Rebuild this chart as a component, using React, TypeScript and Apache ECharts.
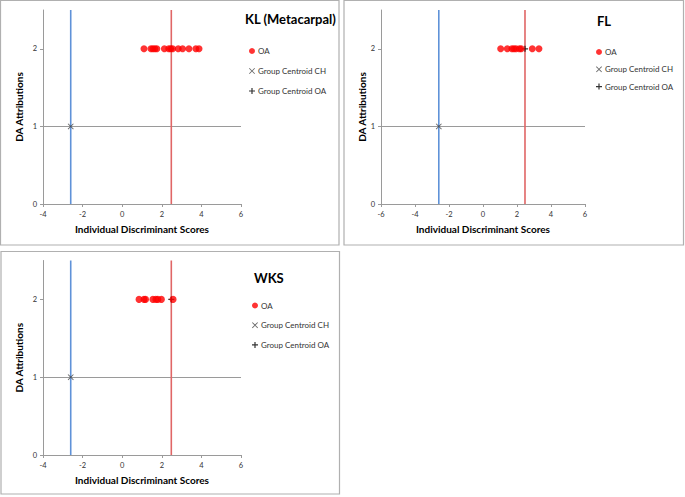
import React, { useEffect, useRef } from "react";
import * as echarts from "echarts";

// ---- data ----
const panelTitles = ["KL (Metacarpal)", "FL", "WKS"];
const klOA = [1.1, 1.45, 1.55, 1.65, 1.75, 2.13, 2.35, 2.45, 2.55, 2.83, 3.05, 3.37, 3.72, 3.88];
const flOA = [1.04, 1.43, 1.7, 1.82, 1.94, 2.14, 2.25, 2.9, 3.29];
const wksOA = [0.85, 1.1, 1.18, 1.55, 1.7, 1.8, 1.98, 2.57];
const oaAttribution = 2;
const chAttribution = 1;
const centroidCH = [-2.6, -2.6, -2.6];
const centroidOA = [2.48, 2.47, 2.48];
const xMins = [-4, -6, -4];
const xMaxs = [6, 6, 6];
const yMin = 0;
const yMax = 2.5;
const yTicks = [0, 1, 2];
const legendNames = ["OA", "Group Centroid CH", "Group Centroid OA"];

const FONT = "Lato";
const X_PATH = "path://M0,1L1,0L5,4L9,0L10,1L6,5L10,9L9,10L5,6L1,10L0,9L4,5Z";
const PLUS_PATH = "path://M4,0H6V4H10V6H6V10H4V6H0V4H4Z";
const BLUE = "#5f92d8";
const RED = "#e06666";

const grids = [
  { left: 43, top: 10, width: 198, height: 194 },
  { left: 381, top: 10, width: 204, height: 194 },
  { left: 43, top: 260.5, width: 198, height: 194.5 },
];
const titlePos = [
  { left: 245, top: 12 },
  { left: 597, top: 14 },
  { left: 254, top: 271 },
];
const legendPos = [
  { left: 249, top: 47, gap: 12 },
  { left: 596, top: 48, gap: 9.3 },
  { left: 252, top: 301.5, gap: 11.7 },
];
const yNameGap = [19, 14, 19];

function vLine(color: string) {
  return (params: any, api: any) => {
    const x = api.value(0);
    const p0 = api.coord([x, api.value(1)]);
    const p1 = api.coord([x, api.value(2)]);
    return {
      type: "line",
      shape: { x1: p0[0], y1: p0[1], x2: p1[0], y2: p1[1] },
      style: { stroke: color, lineWidth: 1.6, fill: "none" },
      silent: true,
    };
  };
}

export default function App() {
  const ref = useRef<HTMLDivElement>(null);
  useEffect(() => {
    if (!ref.current) return;
    const chart = echarts.init(ref.current, null, { renderer: "svg" });
    const oaSets = [klOA, flOA, wksOA];
    const xAxis: any[] = [];
    const yAxis: any[] = [];
    const series: any[] = [];
    const legend: any[] = [];
    const title: any[] = [];
    grids.forEach((g, i) => {
      xAxis.push({
        gridIndex: i,
        type: "value",
        min: xMins[i],
        max: xMaxs[i],
        interval: 2,
        name: "Individual Discriminant Scores",
        nameLocation: "middle",
        nameGap: 20,
        nameTextStyle: { fontFamily: FONT, fontWeight: "bold", fontSize: 10, color: "#000" },
        axisLine: { show: true, onZero: false, lineStyle: { color: "#9a9a9a", width: 1 } },
        axisTick: { show: true, length: 3, lineStyle: { color: "#9a9a9a" } },
        axisLabel: { fontFamily: FONT, fontSize: 7.5, color: "#333", margin: 6 },
        splitLine: { show: false },
      });
      yAxis.push({
        gridIndex: i,
        type: "value",
        min: yMin,
        max: yMax,
        interval: 1,
        name: "DA Attributions",
        nameLocation: "middle",
        nameGap: yNameGap[i],
        nameTextStyle: { fontFamily: FONT, fontWeight: "bold", fontSize: 10, color: "#000" },
        axisLine: { show: true, onZero: false, lineStyle: { color: "#9a9a9a", width: 1 } },
        axisTick: { show: true, length: 3, customValues: yTicks, lineStyle: { color: "#9a9a9a" } },
        axisLabel: { fontFamily: FONT, fontSize: 7.5, color: "#333", margin: 6, customValues: yTicks },
        splitLine: { show: true, showMaxLine: false, lineStyle: { color: "#9a9a9a", width: 1 } },
      });
      series.push({
        type: "custom",
        name: "ch-line-" + i,
        xAxisIndex: i,
        yAxisIndex: i,
        silent: true,
        renderItem: vLine(BLUE),
        data: [[centroidCH[i], yMin, yMax]],
        z: 2,
      });
      series.push({
        type: "custom",
        name: "oa-line-" + i,
        xAxisIndex: i,
        yAxisIndex: i,
        silent: true,
        renderItem: vLine(RED),
        data: [[centroidOA[i], yMin, yMax]],
        z: 2,
      });
      series.push({
        type: "scatter",
        name: "Group Centroid CH",
        xAxisIndex: i,
        yAxisIndex: i,
        symbol: X_PATH,
        symbolSize: 6,
        itemStyle: { color: "#404040" },
        data: [[centroidCH[i], chAttribution]],
        z: 3,
      });
      series.push({
        type: "scatter",
        name: "OA",
        xAxisIndex: i,
        yAxisIndex: i,
        symbol: "circle",
        symbolSize: 7,
        itemStyle: { color: "#ff0000" },
        data: oaSets[i].map((v) => [v, oaAttribution]),
        z: 4,
      });
      series.push({
        type: "scatter",
        name: "Group Centroid OA",
        xAxisIndex: i,
        yAxisIndex: i,
        symbol: PLUS_PATH,
        symbolSize: 6,
        itemStyle: { color: "#000" },
        data: [[centroidOA[i], oaAttribution]],
        z: 3,
      });
      legend.push({
        orient: "vertical",
        left: legendPos[i].left,
        top: legendPos[i].top,
        itemGap: legendPos[i].gap,
        itemWidth: 6,
        itemHeight: 6,
        selectedMode: false,
        padding: 0,
        textStyle: { fontFamily: FONT, fontSize: 8, color: "#333", lineHeight: 8, padding: [0, 0, 0, -2] },
        data: [
          { name: legendNames[0], icon: "circle", itemStyle: { color: "#ff0000" } },
          { name: legendNames[1], icon: X_PATH, itemStyle: { color: "#404040" } },
          { name: legendNames[2], icon: PLUS_PATH, itemStyle: { color: "#000" } },
        ],
      });
      title.push({
        text: panelTitles[i],
        left: titlePos[i].left,
        top: titlePos[i].top,
        padding: 0,
        textStyle: { fontFamily: FONT, fontWeight: "bold", fontSize: 13, color: "#000" },
      });
    });
    chart.setOption({
      animation: false,
      backgroundColor: "#fff",
      title,
      legend,
      grid: grids,
      xAxis,
      yAxis,
      series,
      graphic: [
        { type: "rect", shape: { x: 0.5, y: 0.5, width: 338.5, height: 244.5 }, style: { fill: "none", stroke: "#b0b0b0", lineWidth: 1.2 }, silent: true },
        { type: "rect", shape: { x: 344, y: 0.5, width: 339.5, height: 244.5 }, style: { fill: "none", stroke: "#b0b0b0", lineWidth: 1.2 }, silent: true },
        { type: "rect", shape: { x: 1, y: 251.5, width: 338.5, height: 242.5 }, style: { fill: "none", stroke: "#b0b0b0", lineWidth: 1.2 }, silent: true },
      ],
    });
    return () => chart.dispose();
  }, []);
  return (
    <div
      ref={ref}
      style={{ position: "absolute", left: 0, top: 0, width: 685, height: 497 }}
    />
  );
}
